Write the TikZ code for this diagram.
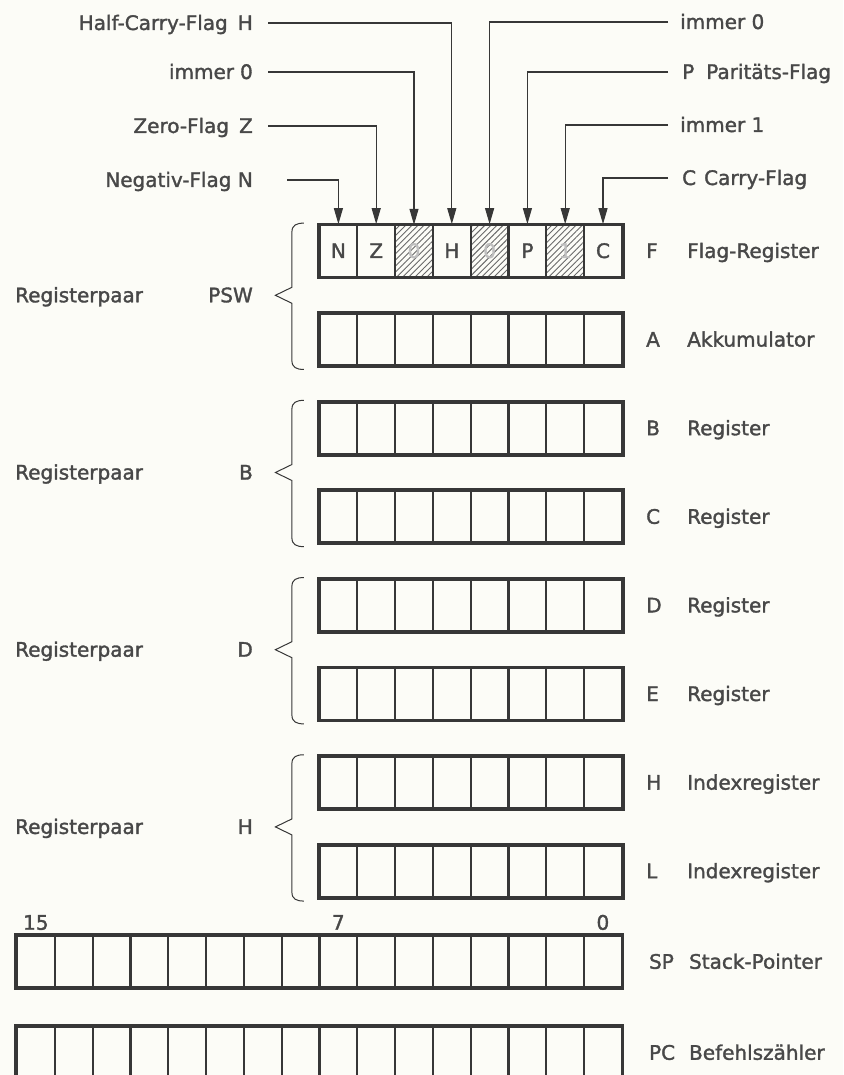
\documentclass[tikz,border=0pt]{standalone}
\usepackage{fontspec}
\setmainfont{DejaVu Sans}[FakeBold=1.6]
\usetikzlibrary{arrows.meta,positioning,patterns.meta,calc}
\definecolor{ink}{RGB}{55,55,55}
\definecolor{txt}{RGB}{72,72,72}
\definecolor{paper}{RGB}{252,252,247}

\begin{document}
\begin{tikzpicture}[
  x=1pt, y=-1pt,
  lbl/.style={font=\fontsize{20}{22}\selectfont, text=txt, inner sep=0pt,
              text height=14pt, text depth=0pt},
  cell/.style={rectangle, draw=ink, line width=2.2pt, minimum width=37.8pt,
               minimum height=51.5pt, inner sep=0pt, lbl},
  bit/.style={},
  fixbit/.style={pattern={Lines[angle=45,distance=4.3pt,line width=0.9pt]},
                 pattern color=ink!75, text=txt!35},
  frame/.style={draw=ink, line width=3pt},
  lead/.style={draw=ink, line width=1.1pt},
  arr/.style={lead, -{Triangle[length=16pt,width=9pt]}},
  brace/.style={draw=ink, line width=1pt}
]
\useasboundingbox (0,0) rectangle (843,1075);
\fill[paper] (0,0) rectangle (843,1075);
\clip (0,0) rectangle (843,1075);

\foreach \k/\t/\s in {0/N/bit,1/Z/bit,2/0/fixbit,3/H/bit,4/0/fixbit,5/P/bit,6/1/fixbit,7/C/bit}
  \node[cell,\s] (F\k) at ({319.5+(\k+0.5)*37.8},251) {\t};
\draw[frame] (F0.north west) rectangle (F7.south east);

\foreach \r/\y in {A/339.6,B/428.2,C/516.8,D/605.4,E/694,H/782.6,L/871.2}{
  \foreach \k in {0,...,7}
    \node[cell] (\r\k) at ({319.5+(\k+0.5)*37.8},\y) {};
  \draw[frame] (\r0.north west) rectangle (\r7.south east);
}

\foreach \r/\y in {SP/961.75,PC/1052.75}{
  \foreach \k in {0,...,15}
    \node[cell] (\r\k) at ({17+(\k+0.5)*37.8},\y) {};
  \draw[frame] (\r0.north west) rectangle (\r15.south east);
}

\foreach \r/\t in {F/Flag-Register,A/Akkumulator,B/Register,C/Register,
                   D/Register,E/Register,H/Indexregister,L/Indexregister}{
  \node[lbl, right=23pt of \r7] (n\r) {\r};
  \node[lbl, right=64pt of \r7] (t\r) {\t};
}
\node[lbl, right=26pt of SP15] (nSP) {SP};
\node[lbl, right=66pt of SP15] (tSP) {Stack-Pointer};
\node[lbl, right=26pt of PC15] (nPC) {PC};
\node[lbl, right=66pt of PC15] (tPC) {Befehlszähler};

\node[lbl, above=5pt of SP0]  (b15) {15};
\node[lbl, above=5pt of SP8]  (b7)  {7};
\node[lbl, above=5pt of SP15] (b0)  {0};

\foreach \u/\l/\q/\m [count=\i] in {F/A/PSW/295.3,B/C/B/472.5,D/E/D/649.7,H/L/H/826.9}{
  \node[lbl, anchor=west] (rp\i) at (15,\m) {Registerpaar};
  \node[lbl, anchor=east] (pn\i) at (253,\m) {\q};
  \draw[brace] let \p1=(\u0.north west), \p2=(\l0.south west),
                   \p3=($(\u0.west)!.5!(\l0.west)$) in
    (\x1-14.5pt,\y1+1pt) .. controls (\x1-22pt,\y1+1pt) and (\x1-26.5pt,\y1-1pt) .. (\x1-26.5pt,\y1-8pt)
    -- (\x1-26.5pt,\y3+8pt) -- (\x1-43pt,\y3) -- (\x1-26.5pt,\y3-8pt)
    -- (\x1-26.5pt,\y2+6pt) .. controls (\x1-26.5pt,\y2-1pt) and (\x1-22pt,\y2-3pt) .. (\x1-14.5pt,\y2-3pt);
}

\node[lbl, anchor=east] (lH) at (253,23)  {Half-Carry-Flag\hspace{10pt}H};
\node[lbl, anchor=east] (l0) at (253,72)  {immer\hspace{6pt}0};
\node[lbl, anchor=east] (lZ) at (253,126) {Zero-Flag\hspace{10pt}Z};
\node[lbl, anchor=east] (lN) at (253,180) {Negativ-Flag N};
\node[lbl, anchor=west] (r0) at (680,22)  {immer 0};
\node[lbl, anchor=west] (rP) at (682,72)  {P\hspace{12pt}Paritäts-Flag};
\node[lbl, anchor=west] (r1) at (680,125) {immer 1};
\node[lbl, anchor=west] (rC) at (682,178) {C\hspace{8pt}Carry-Flag};

\draw[arr, shorten <=15pt] (lH.east) -| (F3.north);
\draw[arr, shorten <=15pt] (l0.east) -| (F2.north);
\draw[arr, shorten <=15pt] (lZ.east) -| (F1.north);
\draw[arr, shorten <=34pt] (lN.east) -| (F0.north);
\draw[arr, shorten <=12pt] (r0.west) -| (F4.north);
\draw[arr, shorten <=14pt] (rP.west) -| (F5.north);
\draw[arr, shorten <=12pt] (r1.west) -| (F6.north);
\draw[arr, shorten <=14pt] (rC.west) -| (F7.north);
\end{tikzpicture}
\end{document}
